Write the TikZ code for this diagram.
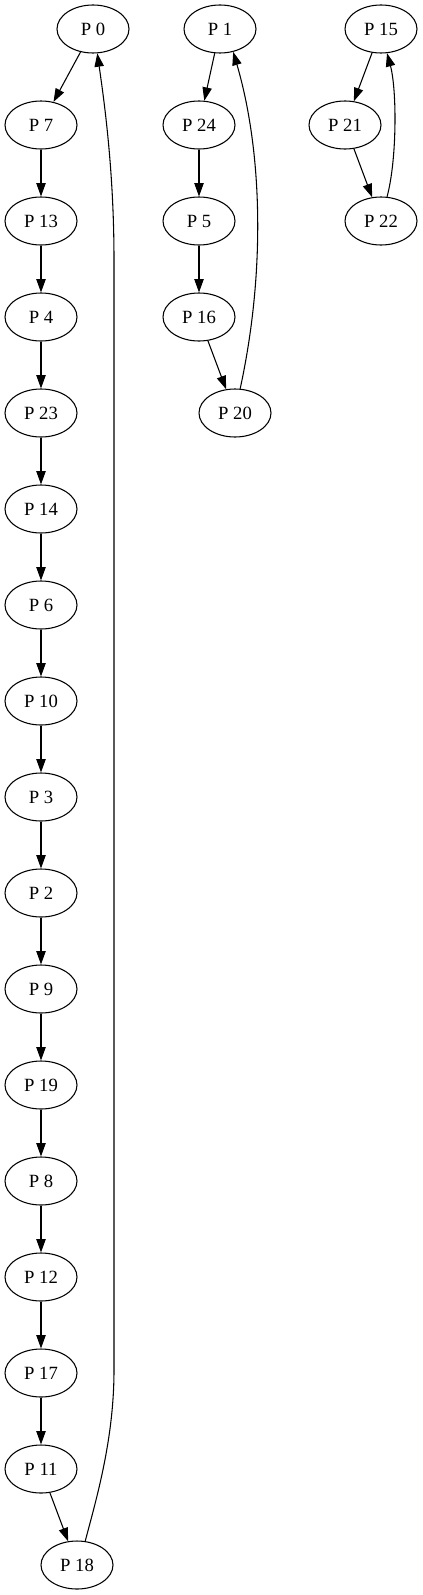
\documentclass[tikz,border=0pt]{standalone}
\usepackage{fontspec}
\setmainfont{Liberation Serif}
\usetikzlibrary{shapes.geometric,arrows.meta}
\begin{document}
\begin{tikzpicture}[x=0.75pt,y=-0.75pt,
  pnode/.style={draw,ellipse,line width=0.8pt,minimum width=54pt,minimum height=36pt,inner sep=0pt,font=\fontsize{14}{16}\selectfont},
  edge/.style={draw,line width=0.8pt,-{Triangle[length=10pt,width=7pt]}}]
\useasboundingbox (0,0) rectangle (423,1595);
% column A
\node[pnode] (P0) at (93,29) {P 0};
\node[pnode] (P7) at (41,125) {P 7};
\node[pnode] (P13) at (41,221) {P 13};
\node[pnode] (P4) at (41,317) {P 4};
\node[pnode] (P23) at (41,413) {P 23};
\node[pnode] (P14) at (41,509) {P 14};
\node[pnode] (P6) at (41,605) {P 6};
\node[pnode] (P10) at (41,701) {P 10};
\node[pnode] (P3) at (41,797) {P 3};
\node[pnode] (P2) at (41,893) {P 2};
\node[pnode] (P9) at (41,989) {P 9};
\node[pnode] (P19) at (41,1085) {P 19};
\node[pnode] (P8) at (41,1181) {P 8};
\node[pnode] (P12) at (41,1277) {P 12};
\node[pnode] (P17) at (41,1373) {P 17};
\node[pnode] (P11) at (41,1469) {P 11};
\node[pnode] (P18) at (77,1565) {P 18};
% column B
\node[pnode] (P1) at (220,29) {P 1};
\node[pnode] (P24) at (199,125) {P 24};
\node[pnode] (P5) at (199,221) {P 5};
\node[pnode] (P16) at (199,317) {P 16};
\node[pnode] (P20) at (235,413) {P 20};
% column C
\node[pnode] (P15) at (381,29) {P 15};
\node[pnode] (P21) at (345,125) {P 21};
\node[pnode] (P22) at (381,221) {P 22};
% edges column A
\draw[edge] (P0) -- (P7);
\draw[edge] (P7) -- (P13);
\draw[edge] (P13) -- (P4);
\draw[edge] (P4) -- (P23);
\draw[edge] (P23) -- (P14);
\draw[edge] (P14) -- (P6);
\draw[edge] (P6) -- (P10);
\draw[edge] (P10) -- (P3);
\draw[edge] (P3) -- (P2);
\draw[edge] (P2) -- (P9);
\draw[edge] (P9) -- (P19);
\draw[edge] (P19) -- (P8);
\draw[edge] (P8) -- (P12);
\draw[edge] (P12) -- (P17);
\draw[edge] (P17) -- (P11);
\draw[edge] (P11) -- (P18);
\draw[edge] (P18.71) .. controls (96,1500) and (114,1440) .. (114,1370)
  -- (114,260) .. controls (114,170) and (104,100) .. (P0.-80);
% edges column B
\draw[edge] (P1) -- (P24);
\draw[edge] (P24) -- (P5);
\draw[edge] (P5) -- (P16);
\draw[edge] (P16) -- (P20);
\draw[edge] (P20.78) .. controls (266,270) and (262,150) .. (P1.-60);
% edges column C
\draw[edge] (P15) -- (P21);
\draw[edge] (P21) -- (P22);
\draw[edge] (P22.76) .. controls (397,160) and (397,90) .. (P15.-76);
\end{tikzpicture}
\end{document}
